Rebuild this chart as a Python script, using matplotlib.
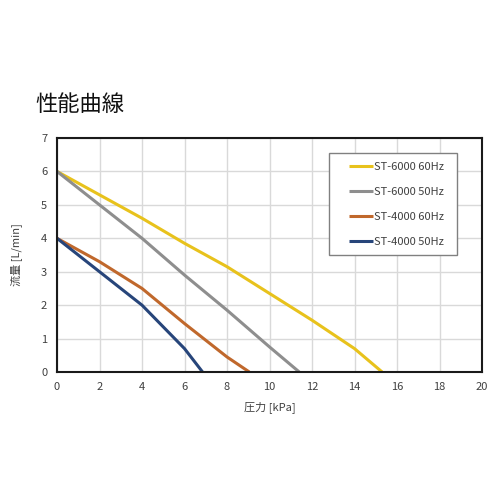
import matplotlib
matplotlib.use("Agg")
import matplotlib.pyplot as plt
from matplotlib.patches import Rectangle

plt.rcParams['font.family'] = ['Noto Sans CJK JP', 'DejaVu Sans']

title = "性能曲線"
xlabel = "圧力 [kPa]"
ylabel = "流量 [L/min]"

labels = ["ST-6000 60Hz", "ST-6000 50Hz", "ST-4000 60Hz", "ST-4000 50Hz"]
colors = ["#E8C21C", "#8E8E8E", "#C0682C", "#27457A"]

x_6000_60 = [0, 2, 4, 6, 8, 10, 12, 14, 15.3]
y_6000_60 = [6, 5.3, 4.6, 3.85, 3.15, 2.35, 1.55, 0.7, 0]
x_6000_50 = [0, 2, 4, 6, 8, 10, 11.4]
y_6000_50 = [6, 5.0, 4.0, 2.9, 1.85, 0.75, 0]
x_4000_60 = [0, 2, 4, 6, 8, 9.05]
y_4000_60 = [4, 3.3, 2.5, 1.45, 0.45, 0]
x_4000_50 = [0, 2, 4, 6, 6.85]
y_4000_50 = [4, 3.0, 2.0, 0.7, 0]

xs = [x_6000_60, x_6000_50, x_4000_60, x_4000_50]
ys = [y_6000_60, y_6000_50, y_4000_60, y_4000_50]

xticks = [0, 2, 4, 6, 8, 10, 12, 14, 16, 18, 20]
yticks = [0, 1, 2, 3, 4, 5, 6, 7]

fig = plt.figure(figsize=(5, 5), dpi=100)
ax = fig.add_axes([0.114, 0.256, 0.85, 0.468])

for x, y, c, l in zip(xs, ys, colors, labels):
    ax.plot(x, y, color=c, lw=2.2, label=l, solid_capstyle='butt')

ax.set_xlim(0, 20)
ax.set_ylim(0, 7)
ax.set_xticks(xticks)
ax.set_yticks(yticks)
ax.grid(True, color="#D9D9D9", lw=1)
ax.set_axisbelow(True)
for s in ax.spines.values():
    s.set_color("#1a1a1a")
    s.set_linewidth(1.5)
ax.tick_params(length=0, labelsize=8, colors="#404040", pad=7)
ax.set_xlabel(xlabel, fontsize=8, color="#404040", labelpad=7)
ax.set_ylabel(ylabel, fontsize=8, color="#404040", labelpad=14)

# legend frame
ax.add_patch(Rectangle((0.64, 0.50), 0.301, 0.436, transform=ax.transAxes,
                       facecolor="white", edgecolor="#808080", lw=1.0, zorder=4))
leg = ax.legend(loc="upper left", bbox_to_anchor=(0.687, 0.897), fontsize=8,
                frameon=False, labelspacing=1.35, handlelength=2.15,
                handletextpad=0.1, borderpad=0, borderaxespad=0)
leg.set_zorder(5)
for t in leg.get_texts():
    t.set_color("#404040")

fig.text(0.07, 0.792, title, fontsize=16, color="#111111",
         ha="left", va="center")

fig.savefig("out.png", dpi=100, facecolor="white")
